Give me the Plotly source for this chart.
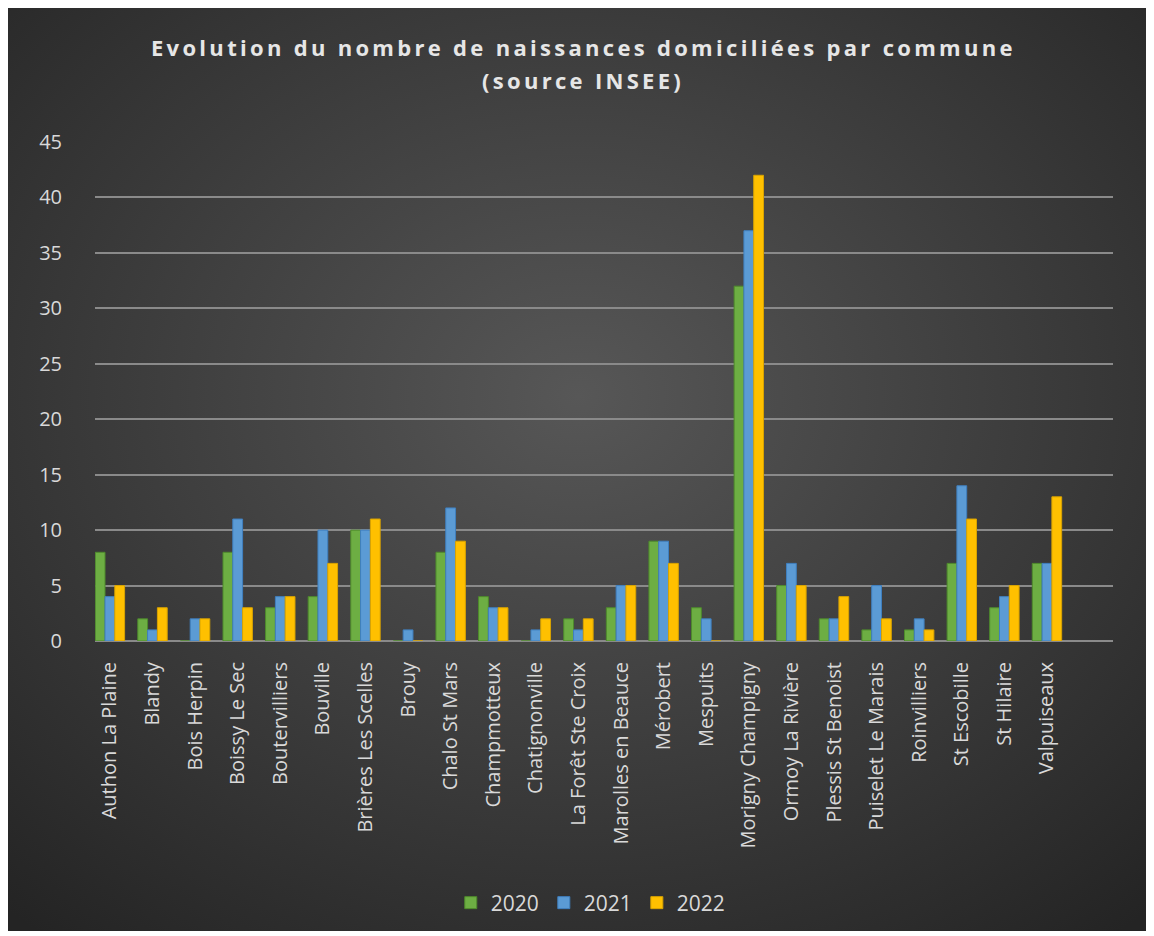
import base64
import plotly.graph_objects as go

communes = ["Authon La Plaine", "Blandy", "Bois Herpin", "Boissy Le Sec", "Boutervilliers",
            "Bouville", "Brières Les Scelles", "Brouy", "Chalo St Mars", "Champmotteux",
            "Chatignonville", "La Forêt Ste Croix", "Marolles en Beauce", "Mérobert",
            "Mespuits", "Morigny Champigny", "Ormoy La Rivière", "Plessis St Benoist",
            "Puiselet Le Marais", "Roinvilliers", "St Escobille", "St Hilaire", "Valpuiseaux"]
v2020 = [8, 2, 0, 8, 3, 4, 10, 0, 8, 4, 0, 2, 3, 9, 3, 32, 5, 2, 1, 1, 7, 3, 7]
v2021 = [4, 1, 2, 11, 4, 10, 10, 1, 12, 3, 1, 1, 5, 9, 2, 37, 7, 2, 5, 2, 14, 4, 7]
v2022 = [5, 3, 2, 3, 4, 7, 11, 0, 9, 3, 2, 2, 5, 7, 0, 42, 5, 4, 2, 1, 11, 5, 13]
years = ["2020", "2021", "2022"]
y_ticks = [0, 5, 10, 15, 20, 25, 30, 35, 40, 45]
title_lines = ["Evolution du nombre de naissances domiciliées par commune", "(source INSEE)"]

colors = ["#6DAE43", "#5B9BD5", "#FFC000"]
edges = ["#4E8A2C", "#3F7FBF", "#D9A300"]

svg = """<svg xmlns='http://www.w3.org/2000/svg' width='1000' height='1000' preserveAspectRatio='none'>
<defs><radialGradient id='g' cx='0.5' cy='0.42' r='0.75'>
<stop offset='0' stop-color='#575757'/><stop offset='1' stop-color='#242424'/></radialGradient></defs>
<rect width='1000' height='1000' fill='url(#g)'/></svg>"""
bg = "data:image/svg+xml;base64," + base64.b64encode(svg.encode()).decode()

fig = go.Figure()
for yr, vals, c, e in zip(years, [v2020, v2021, v2022], colors, edges):
    fig.add_trace(go.Bar(x=communes, y=vals, name=yr, marker=dict(color=c, line=dict(color=e, width=1))))

# figure-coordinate plot area (page body adds 8px offset)
FW, FH = 1154, 936
L, R, T, B = 87, 1105, 134, 633
W, H = R - L, B - T
def px(p): return (p - L) / W
def py(p): return (B - p) / H

fig.add_layout_image(dict(source=bg, xref="paper", yref="paper", x=px(0), y=py(0),
                          sizex=px(1141) - px(0), sizey=py(0) - py(923), sizing="stretch",
                          xanchor="left", yanchor="top", layer="below"))

for line, yy in zip(title_lines, [39, 72]):
    fig.add_annotation(text="<span style='letter-spacing:3.3px'><b>" + line + "</b></span>",
                       xref="paper", yref="paper", x=px(575), y=py(yy),
                       xanchor="center", yanchor="middle", showarrow=False,
                       font=dict(size=22, color="#E6E6E6"))

fig.update_layout(
    width=FW, height=FH,
    paper_bgcolor="white", plot_bgcolor="rgba(0,0,0,0)",
    margin=dict(l=L, r=FW - R, t=T, b=FH - B, pad=0),
    barmode="group", bargap=0.31, bargroupgap=0,
    font=dict(family="Open Sans, Liberation Sans, sans-serif", color="#D9D9D9"),
    legend=dict(orientation="h", x=0.487, xanchor="center", y=py(895), yanchor="middle",
                font=dict(size=21, color="#D9D9D9"), bgcolor="rgba(0,0,0,0)", traceorder="normal"),
    xaxis=dict(range=[-0.35, 23.55], tickangle=-90, tickfont=dict(size=20, color="#D9D9D9"),
               showgrid=False, showline=False, ticks="outside", ticklen=12, tickcolor="rgba(0,0,0,0)"),
    yaxis=dict(range=[0, 45], tickvals=y_ticks, tickfont=dict(size=20, color="#D9D9D9"),
               showgrid=True, gridcolor="#8A8A8A", gridwidth=2, zeroline=True,
               zerolinecolor="#8A8A8A", zerolinewidth=2, ticks="outside", ticklen=28,
               tickcolor="rgba(0,0,0,0)"),
)
fig.write_html("out.html")
